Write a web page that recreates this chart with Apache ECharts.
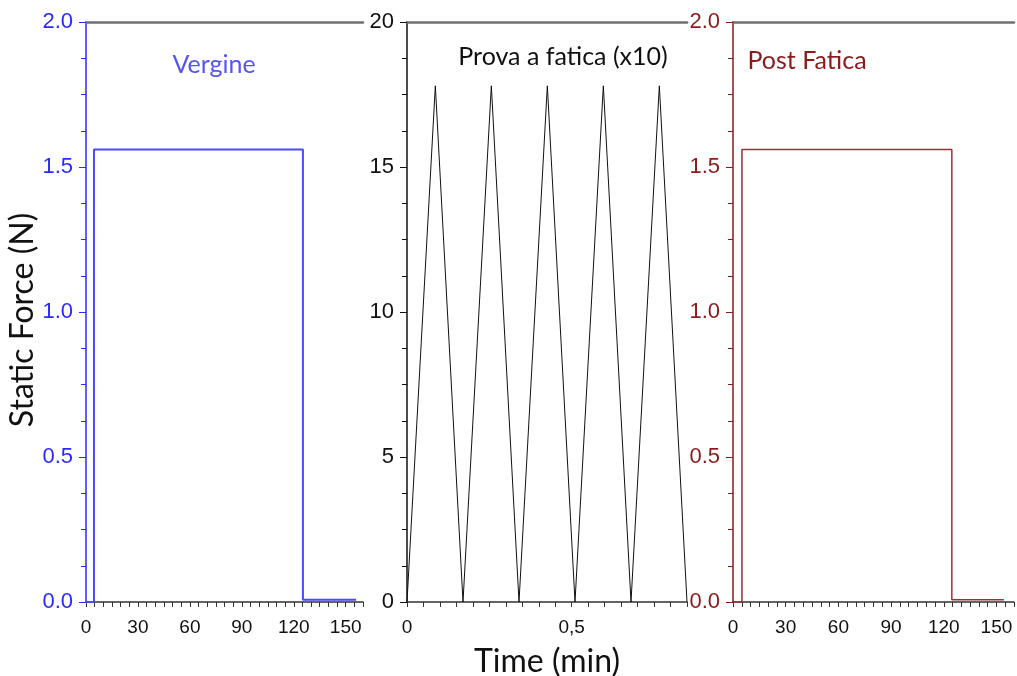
<!DOCTYPE html>
<html><head><meta charset="utf-8">
<script src="https://cdn.jsdelivr.net/npm/echarts@6/dist/echarts.min.js"></script>
<style>html,body{margin:0;padding:0;background:#fff}#c{width:1017px;height:676px}</style>
</head><body><div id="c"></div>
<script>
// Panel 1: Vergine (time in s on 0-160 axis)
const vergineTime  = [0, 4.6, 4.6, 125.3, 125.3, 156];
const vergineForce = [0, 0, 1.56, 1.56, 0.008, 0.008];
// Panel 2: Prova a fatica (x10), time in min
const fatigueTime  = [0, 0.086, 0.17, 0.256, 0.34, 0.426, 0.51, 0.596, 0.68, 0.766, 0.85];
const fatigueForce = [0, 17.8, 0, 17.8, 0, 17.8, 0, 17.8, 0, 17.8, 0];
// Panel 3: Post Fatica
const postTime  = [0, 5.1, 5.1, 124.6, 124.6, 154.2];
const postForce = [0, 0, 1.56, 1.56, 0.008, 0.008];
// Tick labels
const sideXLabels = [0, 30, 60, 90, 120, 150];
const midXLabels = {0: '0', 0.5: '0,5'};
const titles = ['Vergine', 'Prova a fatica (x10)', 'Post Fatica'];

const BLUE = '#2a2aff', RED = '#8b1a1a', AX = '#333';
const chart = echarts.init(document.getElementById('c'), null, {renderer: 'canvas'});

const grids = [
  {left: 86, top: 22, width: 277, height: 580, outerBoundsMode: 'none', containLabel: false},
  {left: 407, top: 22, width: 280, height: 580, outerBoundsMode: 'none', containLabel: false},
  {left: 733, top: 22, width: 281, height: 580, outerBoundsMode: 'none', containLabel: false}
];

function bottomX(gi, max, interval, fmt, name) {
  return {
    type: 'value', gridIndex: gi, position: 'bottom', min: 0, max: max, interval: interval,
    axisLine: {show: true, onZero: false, lineStyle: {color: AX, width: 1.5}},
    axisTick: {show: true, length: 5, lineStyle: {color: AX}},
    splitLine: {show: false},
    axisLabel: {color: '#111', margin: 16, interval: 0, formatter: fmt, showMaxLabel: true,
                fontFamily: 'Liberation Sans', fontSize: 19},
    name: name || '', nameLocation: 'middle', nameGap: 44,
    nameTextStyle: {fontFamily: 'Lato', fontSize: 32, color: '#111'}
  };
}
function topX(gi) {
  return {
    type: 'value', gridIndex: gi, position: 'top', min: 0, max: 1,
    axisLine: {show: true, onZero: false, lineStyle: {color: '#707070', width: 2.5}},
    axisTick: {show: false}, axisLabel: {show: false}, splitLine: {show: false}
  };
}
function leftY(gi, max, interval, color, fmt, name) {
  return {
    type: 'value', gridIndex: gi, min: 0, max: max, interval: interval,
    axisLine: {show: true, onZero: false, lineStyle: {color: color, width: 1.5}},
    axisTick: {show: true, length: 7, lineStyle: {color: color}},
    minorTick: {show: true, splitNumber: 4, length: 5, lineStyle: {color: color}},
    splitLine: {show: false},
    axisLabel: {color: color, margin: 13, formatter: fmt, fontFamily: 'Liberation Sans', fontSize: 22},
    name: name || '', nameLocation: 'middle', nameGap: 46,
    nameTextStyle: {fontFamily: 'Lato', fontSize: 32, color: '#111', padding: [0, 16, 0, 0]}
  };
}
const sideFmt = v => sideXLabels.some(l => Math.abs(l - v) < 1e-6) ? String(Math.round(v)) : '';
const midFmt = v => {
  for (const k in midXLabels) { if (Math.abs(+k - v) < 1e-6) return midXLabels[k]; }
  return '';
};
const titleStyle = c => ({fontFamily: 'Lato', fontSize: 25, fontWeight: 'normal', color: c});

const option = {
  animation: false,
  backgroundColor: '#fff',
  grid: grids,
  title: [
    {text: titles[0], left: 209, top: 47, textAlign: 'center', textStyle: titleStyle('#5656ee')},
    {text: titles[1], left: 558, top: 39, textAlign: 'center', textStyle: titleStyle('#111')},
    {text: titles[2], left: 802, top: 43, textAlign: 'center', textStyle: titleStyle(RED)}
  ],
  xAxis: [
    bottomX(0, 160, 5, sideFmt),
    bottomX(1, 0.85, 0.05, midFmt, 'Time (min)'),
    bottomX(2, 160, 5, sideFmt),
    topX(0), topX(1), topX(2)
  ],
  yAxis: [
    leftY(0, 2, 0.5, BLUE, v => v.toFixed(1), 'Static Force (N)'),
    leftY(1, 20, 5, '#111', v => String(v)),
    leftY(2, 2, 0.5, RED, v => v.toFixed(1))
  ],
  series: [
    {type: 'line', xAxisIndex: 0, yAxisIndex: 0, showSymbol: false, silent: true,
     lineStyle: {color: '#4a4aff', width: 2}, data: vergineTime.map((t, i) => [t, vergineForce[i]])},
    {type: 'line', xAxisIndex: 1, yAxisIndex: 1, showSymbol: false, silent: true,
     lineStyle: {color: '#111', width: 1}, data: fatigueTime.map((t, i) => [t, fatigueForce[i]])},
    {type: 'line', xAxisIndex: 2, yAxisIndex: 2, showSymbol: false, silent: true,
     lineStyle: {color: '#9a3030', width: 1.5}, data: postTime.map((t, i) => [t, postForce[i]])}
  ]
};
chart.setOption(option);
</script></body></html>
